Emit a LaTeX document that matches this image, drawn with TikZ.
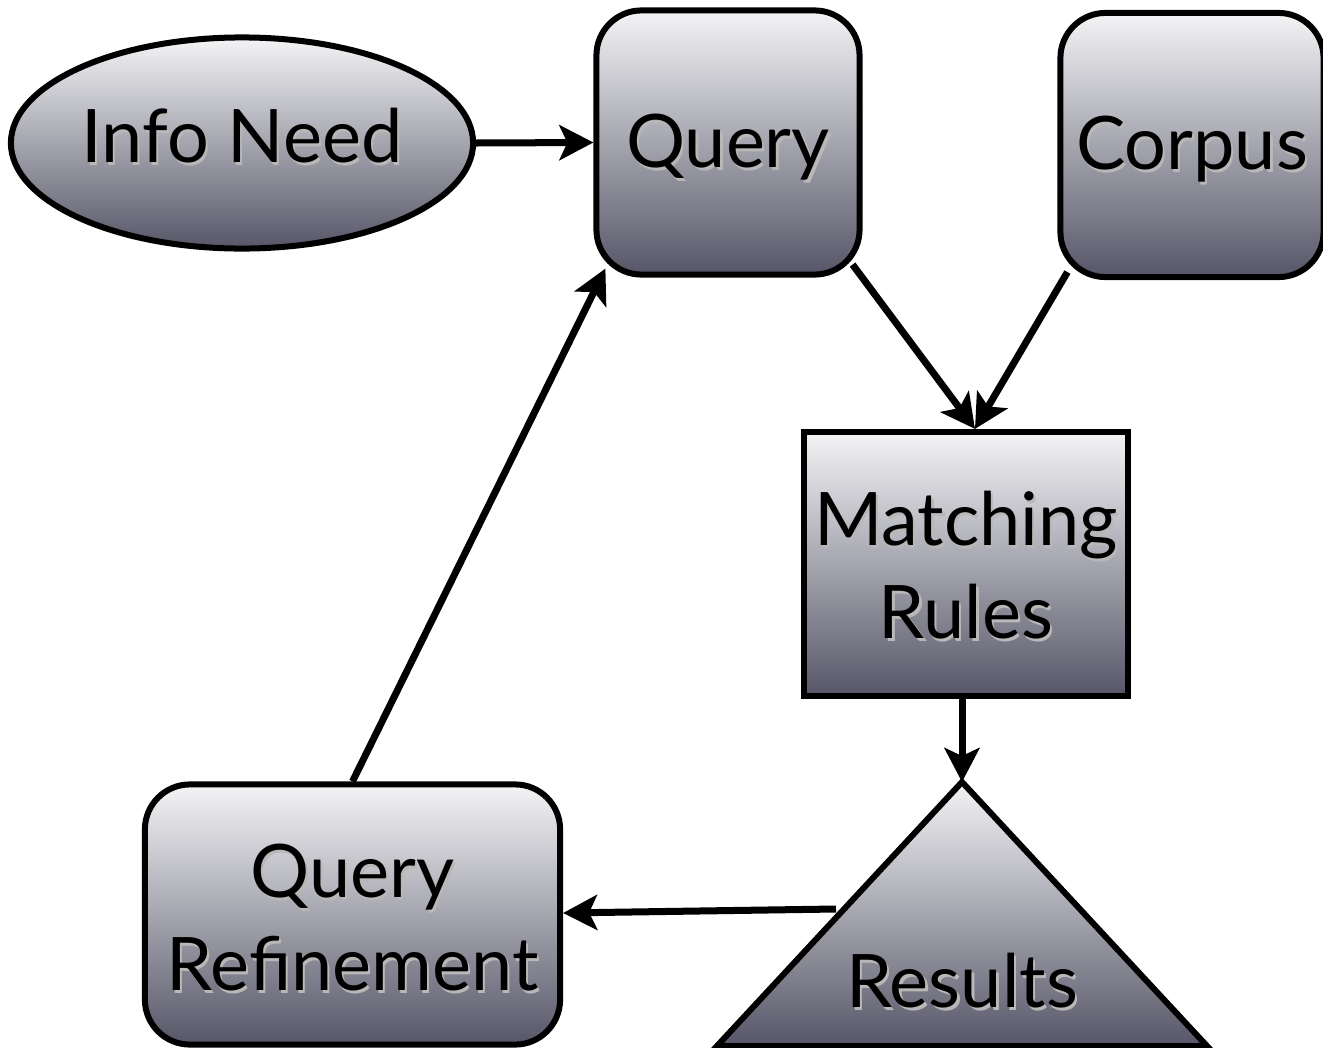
\documentclass[tikz,border=0pt]{standalone}
\usepackage{fontspec}
\setmainfont{Lato}
\usetikzlibrary{arrows.meta,shapes.geometric,calc}
\definecolor{gtop}{RGB}{244,244,246}
\definecolor{gbot}{RGB}{86,86,104}
\newcommand\tlbox[1]{\vbox{\lineskiplimit=-\maxdimen\baselineskip=0.92cm\halign{\hfil##\hfil\cr#1\cr}}}
\newcommand\tl[2]{\smash{\raisebox{#1}{\rlap{\kern0.022cm\raisebox{-0.03cm}{\color{black!28}\tlbox{#2}}}\tlbox{#2}}}}
\begin{document}
\begin{tikzpicture}[x=0.01cm,y=-0.01cm,
  shadebox/.style={top color=gtop,bottom color=gbot,draw=black,line width=0.06cm,inner sep=0pt,font=\fontsize{21pt}{26pt}\selectfont},
  rbox/.style={shadebox,rectangle,rounded corners=0.45cm},
  lbl/.style={inner sep=0pt,font=\fontsize{21pt}{26pt}\selectfont},
  arr/.style={line width=0.07cm,-{Stealth[length=0.34cm,width=0.35cm,inset=0.08cm]}}]
\useasboundingbox (0,0) rectangle (1323,1048);

\node[shadebox,ellipse,minimum width=4.62cm,minimum height=2.11cm] (info) at (242,143) {\tl{-0.19cm}{Info Need}};
\node[rbox,minimum width=2.63cm,minimum height=2.64cm] (query) at (728,142.5) {\tl{-0.245cm}{Query}};
\node[rbox,minimum width=2.63cm,minimum height=2.64cm] (corpus) at (1192,145) {\tl{-0.24cm}{Corpus}};
\node[shadebox,rectangle,minimum width=3.24cm,minimum height=2.64cm] (match) at (966,564) {\tl{-0.74cm}{Matching\cr Rules}};
\node[rbox,minimum width=4.15cm,minimum height=2.6cm] (qr) at (352.5,914.5) {\tl{-0.755cm}{Query\cr Refinement}};

\coordinate (rapex) at (962,782);
\coordinate (rleft) at (717,1046);
\coordinate (rright) at (1207,1046);
\shade[top color=gtop,bottom color=gbot,draw=black,line width=0.06cm,line join=miter] (rapex) -- (rright) -- (rleft) -- cycle;
\node[lbl] (res) at (962,980) {\tl{-0.27cm}{Results}};

\coordinate (mtop) at ($(match.north)+(9,0)$);
\coordinate (qstart) at ($(query.south east)+(-10,-13)$);
\coordinate (cstart) at ($(corpus.south west)+(10,-8)$);
\coordinate (rstart) at (836,909);
\coordinate (qrend) at ($(qr.east)+(0,-1.5)$);
\coordinate (qend) at ($(query.south west)+(12,-9)$);

\draw[arr] (info.east) -- (query.west);
\draw[arr] (qstart) -- (mtop);
\draw[arr] (cstart) -- (mtop);
\draw[arr] (match.south -| rapex) -- (rapex);
\draw[arr] (rstart) -- (qrend);
\draw[arr] (qr.north) -- (qend);
\end{tikzpicture}
\end{document}
